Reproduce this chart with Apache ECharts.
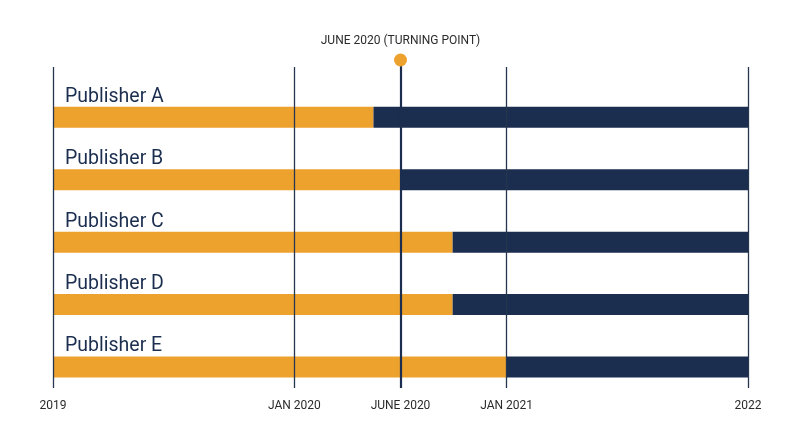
<!DOCTYPE html>
<html><head><meta charset="utf-8">
<script src="https://cdn.jsdelivr.net/npm/echarts@6/dist/echarts.min.js"></script>
<style>html,body{margin:0;padding:0;background:#fff}#c{width:800px;height:447px}</style>
</head><body><div id="c"></div>
<script>
// Stylized timeline scale (months from start of 2019, as spaced in the picture)
const publishers = ['Publisher A', 'Publisher B', 'Publisher C', 'Publisher D', 'Publisher E'];
const switchPoint = [16.6, 18, 20.7, 20.7, 23.5];
const endPoint = 36;
const tickLabels = ['2019', 'JAN 2020', 'JUNE 2020', 'JAN 2021', '2022'];
const tickPositions = [0, 12.5, 18, 23.5, 36];
const turningLabel = 'JUNE 2020 (TURNING POINT)';
const turningPosition = 18;

const ORANGE = '#EEA22E', NAVY = '#1B2E4F', LINE = '#27364f';
const afterValues = switchPoint.map(v => endPoint - v);

const regularLines = tickPositions.map((p, i) => {
  const isTurn = p === turningPosition;
  return [
    {coord: [p, 0], label: {formatter: tickLabels[i]},
     lineStyle: {type: 'solid', width: isTurn ? 2.2 : 1.3, color: isTurn ? NAVY : LINE}},
    {coord: [p, isTurn ? 323 : 321]}
  ];
});

const chart = echarts.init(document.getElementById('c'));
chart.setOption({
  animation: false,
  textStyle: {fontFamily: 'Roboto'},
  grid: [
    {left: 53, right: 52, top: 86, bottom: 48.7},
    {left: 53, right: 52, top: 60, bottom: 59}
  ],
  xAxis: [
    {gridIndex: 0, type: 'value', min: 0, max: endPoint, show: false},
    {gridIndex: 1, type: 'value', min: 0, max: endPoint, show: false}
  ],
  yAxis: [
    {gridIndex: 0, type: 'category', data: publishers, inverse: true, show: false},
    {gridIndex: 1, type: 'value', min: 0, max: 328, show: false}
  ],
  series: [
    {
      type: 'bar', xAxisIndex: 0, yAxisIndex: 0, stack: 't', barWidth: 21,
      data: switchPoint, itemStyle: {color: ORANGE}, z: 2,
      label: {show: true, position: [12, 0], align: 'left', verticalAlign: 'bottom',
        formatter: p => p.name, color: NAVY, fontSize: 19.5, fontFamily: 'Roboto'}
    },
    {
      type: 'bar', xAxisIndex: 0, yAxisIndex: 0, stack: 't', barWidth: 21,
      data: afterValues, itemStyle: {color: NAVY}, z: 2
    },
    {
      type: 'scatter', xAxisIndex: 1, yAxisIndex: 1, z: 10,
      data: [[turningPosition, 328]], symbolSize: 13, itemStyle: {color: ORANGE, opacity: 1},
      label: {show: true, position: 'top', distance: 7, formatter: turningLabel,
        color: '#2b2b2b', fontSize: 12, fontFamily: 'Roboto'},
      markLine: {
        silent: true, symbol: 'none', animation: false,
        lineStyle: {type: 'solid'},
        label: {show: true, position: 'start', distance: 12, color: '#2b2b2b', fontSize: 12, fontFamily: 'Roboto'},
        data: regularLines
      }
    }
  ]
});
</script></body></html>
